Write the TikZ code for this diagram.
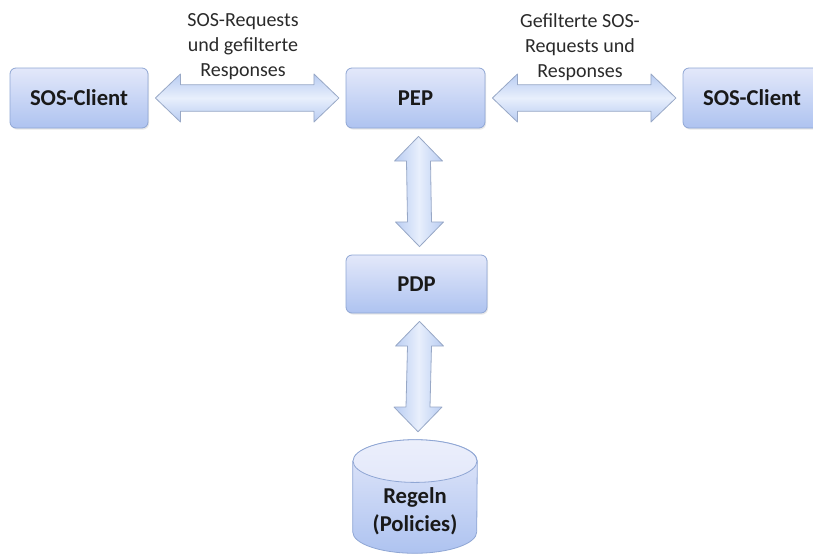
\documentclass[tikz,border=0pt]{standalone}
\usepackage{fontspec}
\setmainfont{Carlito}
\usetikzlibrary{calc,shadows}

\definecolor{boxtop}{HTML}{E3E8FA}
\definecolor{boxbot}{HTML}{AEC3F0}
\definecolor{boxline}{HTML}{8FA6D4}
\definecolor{arrlight}{HTML}{E8EFFC}
\definecolor{arrdark}{HTML}{B8CCF2}
\definecolor{arrline}{HTML}{98A8C6}
\definecolor{labeltext}{HTML}{2A2A2A}

\tikzset{
  block/.style={rectangle, rounded corners=4.5pt, draw=boxline, line width=0.6pt,
    top color=boxtop, bottom color=boxbot,
    drop shadow={opacity=0.18, shadow xshift=0.8pt, shadow yshift=-1.2pt},
    font=\bfseries\fontsize{17}{21}\selectfont, text=black!90,
    minimum width=103.5pt, minimum height=45pt, inner sep=0pt},
  flowlabel/.style={align=center, text=labeltext, inner sep=0pt,
    font=\fontsize{15}{18.75}\selectfont},
  % horizontal double block arrow between two nodes
  harrow/.style={to path={
    let \p1=($(\tikztostart.east)+(5.25pt,0)$),
        \p2=($(\tikztotarget.west)-(5pt,0)$) in
    (\p1) -- (\x1+18.75pt,\y1+18pt) -- (\x1+18.75pt,\y1+10pt)
    -- (\x2-18.75pt,\y2+10pt) -- (\x2-18.75pt,\y2+18pt) -- (\p2)
    -- (\x2-18.75pt,\y2-18pt) -- (\x2-18.75pt,\y2-10pt)
    -- (\x1+18.75pt,\y1-10pt) -- (\x1+18.75pt,\y1-18pt) -- cycle}},
  % vertical double block arrow between two nodes
  varrow/.style={to path={
    let \p1=($(\tikztostart.south)+(2.25pt,-6pt)$),
        \p2=($(\tikztotarget.north)+(2.25pt,6pt)$) in
    (\p1) -- (\x1+18pt,\y1-18.5pt) -- (\x1+9pt,\y1-18.5pt)
    -- (\x2+9pt,\y2+18.5pt) -- (\x2+18pt,\y2+18.5pt) -- (\p2)
    -- (\x2-18pt,\y2+18.5pt) -- (\x2-9pt,\y2+18.5pt)
    -- (\x1-9pt,\y1-18.5pt) -- (\x1-18pt,\y1-18.5pt) -- cycle}},
  hshade/.style={draw=arrline, line width=0.6pt, line join=round,
    top color=arrdark, bottom color=arrdark, middle color=arrlight},
  vshade/.style={draw=arrline, line width=0.6pt, line join=round,
    left color=arrdark, right color=arrdark, middle color=arrlight},
}

\begin{document}
\begin{tikzpicture}[x=0.75pt, y=-0.75pt]
  \useasboundingbox (0,0) rectangle (813,554);

  % components
  \node[block] (clientL) at (79,98) {SOS-Client};
  \node[block, minimum width=104.25pt] (pep) at (415.5,98) {PEP};
  \node[block] (clientR) at (752,98) {SOS-Client};
  \node[block, minimum width=105.75pt, minimum height=43.5pt] (pdp) at (416.5,284) {PDP};

  % policy store (cylinder)
  \node[minimum width=93pt, minimum height=84.75pt, inner sep=0pt] (db) at (415,496.5) {};
  \shade[top color=boxtop, bottom color=boxbot, draw=boxline, line width=0.6pt]
    ($(db.north west)+(0,-16pt)$) -- ($(db.south west)+(0,16pt)$)
    arc[start angle=180, end angle=360, x radius=46.5pt, y radius=16pt]
    -- ($(db.north east)+(0,-16pt)$)
    arc[start angle=0, end angle=180, x radius=46.5pt, y radius=16pt] -- cycle;
  \shade[top color=boxtop!70!white, bottom color=boxtop, draw=boxline, line width=0.6pt]
    ($(db.north)+(0,-16pt)$) ellipse[x radius=46.5pt, y radius=16pt];
  \node[align=center, text=black!90, inner sep=0pt,
        font=\bfseries\fontsize{17}{21}\selectfont] (dblabel) at (415,511)
        {Regeln\\(Policies)};

  % message flows
  \path[hshade] (clientL) to[harrow] (pep);
  \path[hshade] (pep) to[harrow] (clientR);
  \path[vshade] (pep) to[varrow] (pdp);
  \path[vshade] (pdp) to[varrow] (db);

  % flow labels
  \node[flowlabel] (lblL) at (243,47) {SOS-Requests\\und gefilterte\\Responses};
  \node[flowlabel] (lblR) at (580,47) {Gefilterte SOS-\\Requests und\\Responses};
\end{tikzpicture}
\end{document}
